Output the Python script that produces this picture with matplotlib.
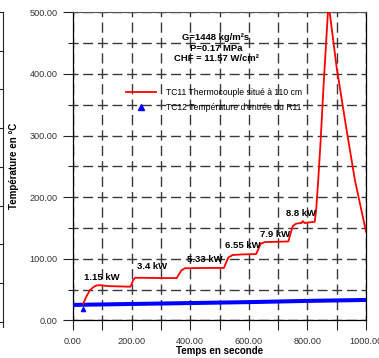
import matplotlib
matplotlib.use("Agg")
import matplotlib.pyplot as plt
from matplotlib.ticker import MultipleLocator, FuncFormatter
from matplotlib.lines import Line2D

plt.rcParams['font.family'] = ['Liberation Sans', 'DejaVu Sans']

# ---------------- data ----------------
tc11_t = [35, 45, 58, 70, 80, 92, 120, 160, 195, 200, 205, 212, 240, 300, 354,
          362, 370, 382, 450, 515, 522, 530, 545, 580, 625, 632, 640, 655, 700,
          735, 742, 750, 762, 780, 785, 790, 825, 830, 837, 845, 855, 865, 872,
          880, 900, 930, 962, 1000]
tc11_T = [27, 38, 49, 54, 56.5, 57, 55.5, 55, 54.5, 58, 65, 69, 69, 68.5, 68.6,
          75, 81, 84.5, 85, 85, 93, 102, 106, 107, 107.5, 115, 124, 127, 127.5,
          128, 140, 153, 157, 158, 161, 158, 160, 180, 228, 290, 380, 460, 515,
          485, 410, 320, 228, 144]

tc12_t = [0, 200, 400, 600, 800, 1000]
tc12_T = [25, 26.5, 28, 29.5, 31.5, 33]
tc12_first_t = [33]
tc12_first_T = [18]

power_labels = ["1.15 kW", "3.4 kW", "5.33 kW", "6.55 kW", "7.9 kW", "8.8 kW"]
power_t = [37, 219, 390, 519, 638, 727]
power_T = [69, 87, 99, 121, 140, 174]

cond_text = "G=1448 kg/m²s\nP=0.17 MPa\nCHF = 11.57 W/cm²"
legend_labels = ["TC11 Thermocouple situé à 110 cm", "TC12 Température d'entrée du R11"]
xlabel = "Temps en seconde"
ylabel = "Température en °C"

# ---------------- figure ----------------
W, H = 379, 358
fig = plt.figure(figsize=(W / 100, H / 100), dpi=100)
ax = fig.add_axes([73 / W, 1 - 320.3 / H, (366 - 73) / W, (320.3 - 12.3) / H])

ax.set_xlim(0, 1000)
ax.set_ylim(0, 500)

ax.xaxis.set_major_locator(MultipleLocator(100))
ax.xaxis.set_major_formatter(FuncFormatter(lambda v, p: "%.2f" % v if int(round(v)) % 200 == 0 else ""))
ax.yaxis.set_major_locator(MultipleLocator(100))
ax.yaxis.set_minor_locator(MultipleLocator(50))
ax.yaxis.set_major_formatter(FuncFormatter(lambda v, p: "%.2f" % v))

gcol = '#3a3a3a'
ax.xaxis.grid(True, which='major', color=gcol, lw=1.0, linestyle=(3.7, (7.4, 3.7)))
ax.yaxis.grid(True, which='both', color=gcol, lw=1.0, linestyle=(3.6, (7.2, 3.35)))
ax.set_axisbelow(True)

ax.tick_params(axis='x', which='major', direction='out', length=7, width=0.8,
               pad=5, labelsize=6.6, labelcolor='#333333', color='#222222')
ax.tick_params(axis='y', which='major', direction='out', length=7, width=0.8,
               pad=4, labelsize=6.6, labelcolor='#333333', color='#222222')
ax.tick_params(axis='y', which='minor', direction='out', length=3.6, width=0.8,
               color='#222222')

for s in ['left', 'bottom', 'right']:
    ax.spines[s].set_linewidth(0.9)
    ax.spines[s].set_color('black')
ax.spines['top'].set_linewidth(0.8)
ax.spines['top'].set_color('#555555')

# series
ax.plot(tc12_t, tc12_T, color='#0000ff', lw=2.9, solid_capstyle='butt', zorder=3)
ax.plot(tc12_first_t, tc12_first_T, linestyle='none', marker='^', color='#0000ff',
        markersize=3, zorder=3)
ax.plot(tc11_t, tc11_T, color='#ff0000', lw=1.3, zorder=4)

# legend
h1 = Line2D([], [], color='#ff0000', lw=1.3)
h2 = Line2D([], [], color='#0000ff', linestyle='none', marker='^', markersize=5)
leg = ax.legend([h1, h2], legend_labels, loc='center left',
                bbox_to_anchor=(0.181, 0.715), frameon=False, fontsize=6.2,
                handlelength=3.5, handletextpad=1.1, labelspacing=0.75,
                borderpad=0, borderaxespad=0)

# texts
ax.text(488, 442, cond_text, ha='center', va='center', fontsize=6.8,
        fontweight='bold', linespacing=1.15, multialignment='center', zorder=5)
for lab, t, T in zip(power_labels, power_t, power_T):
    ax.text(t, T, lab, ha='left', va='center', fontsize=6.8, fontweight='bold', zorder=5)

ax.set_xlabel(xlabel, fontsize=7, fontweight='bold')
ax.set_ylabel(ylabel, fontsize=7, fontweight='bold')
ax.xaxis.set_label_coords(0.5, -0.084)
ax.yaxis.set_label_coords(-0.183, 0.5)

# cropped neighbouring frame at the far left edge
def fx(px):
    return px / W

def fy(py):
    return 1 - py / H

edge_ticks = [12, 50.5, 89, 128, 167, 206, 244, 283, 322]
fig.add_artist(Line2D([fx(2.5), fx(2.5)], [fy(12), fy(327)], color='#222222', lw=0.8,
                      transform=fig.transFigure))
for py in edge_ticks:
    fig.add_artist(Line2D([fx(0), fx(2.5)], [fy(py), fy(py)], color='#222222', lw=0.8,
                          transform=fig.transFigure))

fig.savefig("out.png", dpi=100, facecolor='white')
